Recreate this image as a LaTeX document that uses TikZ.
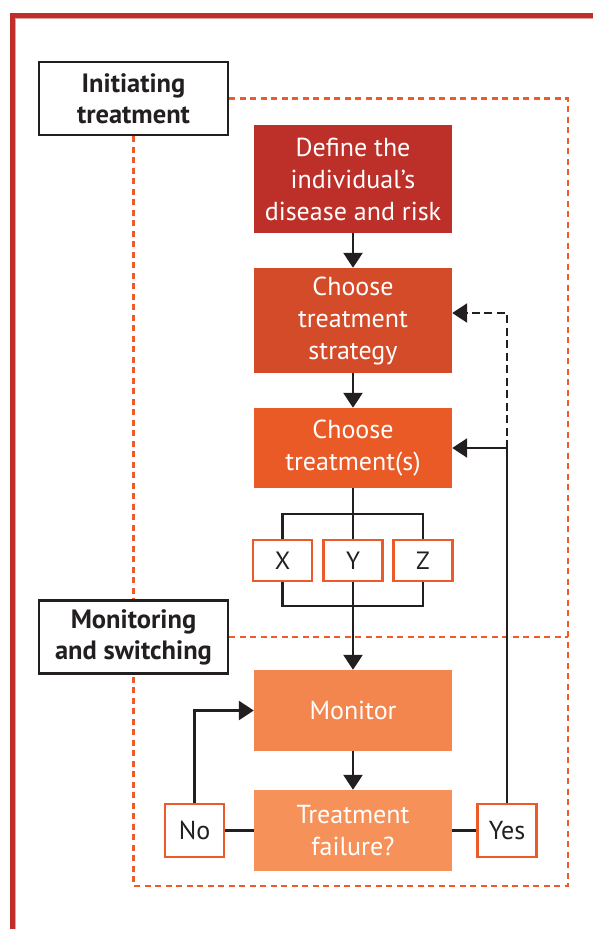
\documentclass[tikz,border=0pt]{standalone}
\usepackage{fontspec}
\setmainfont{PT Sans}
\usetikzlibrary{arrows.meta}
\definecolor{frameRed}{HTML}{BE2F2C}
\definecolor{zoneOr}{HTML}{EE5A2A}
\definecolor{inkDark}{HTML}{231F20}
\definecolor{cDef}{HTML}{BD3029}
\definecolor{cStrat}{HTML}{D44B2A}
\definecolor{cChoose}{HTML}{E95A27}
\definecolor{cMon}{HTML}{F3864E}
\definecolor{cFail}{HTML}{F69259}
\definecolor{optOr}{HTML}{EC5A2A}
\tikzset{
  mainbox/.style={rectangle, draw=none, text=white, minimum width=198pt, align=center, inner sep=0pt,
     font=\fontsize{26}{32}\selectfont},
  labelbox/.style={rectangle, draw=inkDark, line width=2.5pt, fill=white, minimum width=189pt, minimum height=73pt,
     align=center, inner sep=0pt, text=inkDark, font=\fontsize{26.5}{31}\selectfont\bfseries},
  optbox/.style={rectangle, draw=optOr, line width=2.5pt, fill=white, minimum width=59pt, minimum height=41pt,
     inner sep=0pt, text=inkDark, font=\fontsize{25}{28}\selectfont},
  ansbox/.style={rectangle, draw=optOr, line width=2.5pt, fill=white, minimum width=59pt, minimum height=53pt,
     inner sep=0pt, text=inkDark, font=\fontsize{26}{28}\selectfont},
  zone/.style={draw=zoneOr, line width=2.5pt, dash pattern=on 6pt off 4.5pt},
  wire/.style={draw=inkDark, line width=2.6pt},
  conn/.style={wire, -{Triangle[width=19pt,length=15pt]}},
}
\begin{document}
\begin{tikzpicture}[x=1pt,y=-1pt]
\useasboundingbox (0,0) rectangle (593,929);
% frame
\draw[frameRed, line width=5pt] (12.5,929) -- (12.5,15.5) -- (593,15.5);
\draw[frameRed!45, line width=1pt] (15.5,929) -- (15.5,18.5) -- (593,18.5);

% label boxes
\node[labelbox] (init) at (133.5,98.5) {Initiating\\treatment};
\node[labelbox] (mons) at (133.5,637) {Monitoring\\and switching};

% dashed zones
\coordinate (zy) at (0,886);
\draw[zone] (init.east) -- (568,98.5) -- (568,886) -- (init.south |- zy) -- (mons.south);
\draw[zone] (init.south) -- (mons.north);
\draw[zone] (mons.east) -- (568,637);

% main boxes
\node[mainbox, fill=cDef, minimum height=108pt] (def) at (353,179) {Define the\\individual’s\\disease and risk};
\node[mainbox, fill=cStrat, minimum height=105pt] (strat) at (353,320.5) {Choose\\treatment\\strategy};
\node[mainbox, fill=cChoose, minimum height=80pt] (choose) at (353,448) {Choose\\treatment(s)};
\node[mainbox, fill=cMon, minimum height=81pt] (mon) at (353,710.5) {Monitor};
\node[mainbox, fill=cFail, minimum height=81pt] (fail) at (353,830.5) {Treatment\\failure?};

% options
\node[optbox] (X) at (282.5,560.5) {X};
\node[optbox] (Y) at (353,560.5) {Y};
\node[optbox] (Z) at (423,560.5) {Z};
\coordinate (btop) at (353,514);
\coordinate (bbot) at (353,606);

% answers
\node[ansbox] (no) at (194.5,830.5) {No};
\node[ansbox] (yes) at (507,830.5) {Yes};

% connectors
\draw[conn] (def) -- (strat);
\draw[conn] (strat) -- (choose);
\draw[wire] (choose.south) -- (btop);
\draw[wire] (X.north) |- (btop) -| (Z.north);
\draw[wire] (btop) -- (Y.north);
\draw[wire] (X.south) |- (bbot) -| (Z.south);
\draw[wire] (Y.south) -- (bbot);
\draw[conn] (bbot) -- (mon);
\draw[conn] (mon) -- (fail);
\draw[wire] (fail.west) -- (no.east);
\draw[wire] (fail.east) -- (yes.west);
\draw[conn] (no.north) |- (mon.west);
\draw[conn] (yes.north) |- (choose.east);
\coordinate (dtop) at (yes.north |- choose.east);
\draw[conn, dash pattern=on 8pt off 4.5pt] (dtop) |- ([yshift=7.5pt]strat.east);
\end{tikzpicture}
\end{document}
